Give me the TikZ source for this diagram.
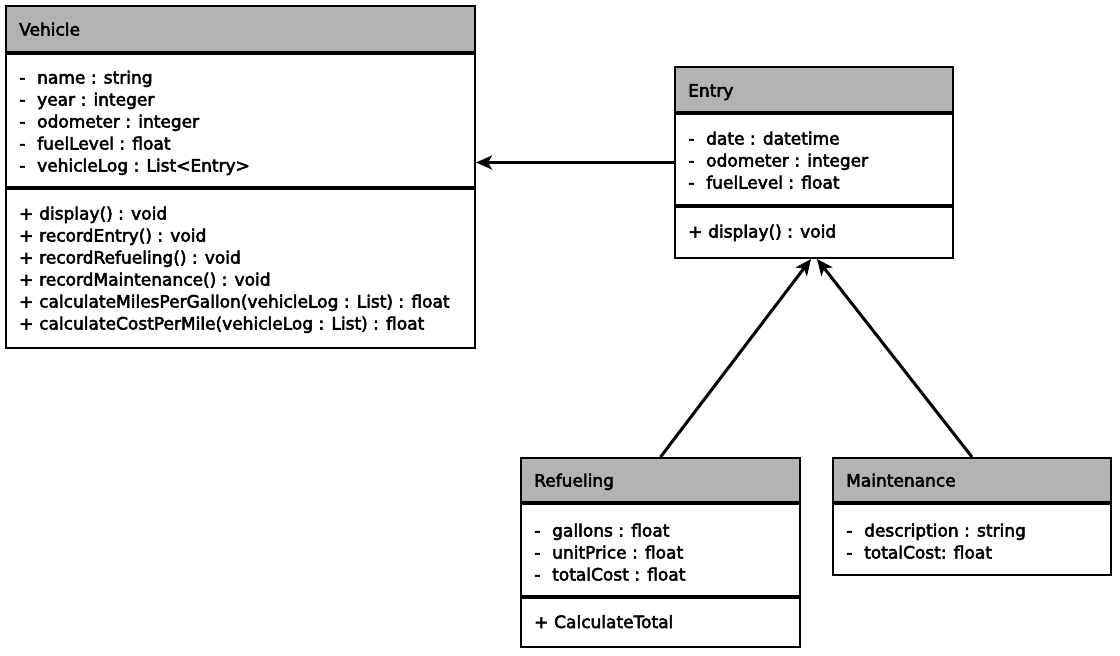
\documentclass[tikz,border=0pt]{standalone}
\usepackage{fontspec}
\setmainfont{DejaVu Sans}[FakeBold=3]
\usetikzlibrary{arrows.meta,calc}
\definecolor{headgray}{RGB}{179,179,179}
% visibility markers for class members
\newcommand\priv[1]{\makebox[18pt][l]{-}#1}
\newcommand\publ[1]{\makebox[20pt][l]{+}#1}
\begin{document}
\begin{tikzpicture}[x=1pt,y=-1pt,
  classbox/.style={draw, line width=2pt, rectangle, inner sep=0pt, anchor=north west},
  headbox/.style={fill=headgray, rectangle, inner sep=0pt, anchor=north west},
  sepline/.style={line width=3.2pt},
  member/.style={anchor=base west, inner sep=0pt, font=\fontsize{17}{20}\selectfont},
  assoc/.style={line width=3pt, -{Stealth[length=16pt,width=14pt,inset=4pt]}}]
\useasboundingbox (0,0) rectangle (1120,656);

% ---------- Vehicle ----------
\node[headbox, minimum width=469, minimum height=48] (vehhead) at (5,5) {};
\draw[sepline] (5,53) -- (474,53);
\draw[sepline] (5,188) -- (474,188);
\node[classbox, minimum width=469, minimum height=342] (veh) at (5,5) {};
\node[member] (vehname) at (19,35.5) {Vehicle};
\node[member] (va1) at (19,83.5)  {\priv{name : string}};
\node[member] (va2) at (19,105.5) {\priv{year : integer}};
\node[member] (va3) at (19,127.5) {\priv{odometer : integer}};
\node[member] (va4) at (19,149.5) {\priv{fuelLevel : float}};
\node[member] (va5) at (19,171.5) {\priv{vehicleLog : List<Entry>}};
\node[member] (vm1) at (19,219.5) {\publ{display() : void}};
\node[member] (vm2) at (19,241.5) {\publ{recordEntry() : void}};
\node[member] (vm3) at (19,263.5) {\publ{recordRefueling() : void}};
\node[member] (vm4) at (19,285.5) {\publ{recordMaintenance() : void}};
\node[member] (vm5) at (19,307.5) {\publ{calculateMilesPerGallon(vehicleLog : List) : float}};
\node[member] (vm6) at (19,329.5) {\publ{calculateCostPerMile(vehicleLog : List) : float}};

% ---------- Entry ----------
\node[headbox, minimum width=278, minimum height=47] (enthead) at (674,66) {};
\draw[sepline] (674,113) -- (952,113);
\draw[sepline] (674,206) -- (952,206);
\node[classbox, minimum width=278, minimum height=191] (entry) at (674,66) {};
\node[member] (entname) at (688,96.5) {Entry};
\node[member] (ea1) at (688,144.5) {\priv{date : datetime}};
\node[member] (ea2) at (688,166.5) {\priv{odometer : integer}};
\node[member] (ea3) at (688,188.5) {\priv{fuelLevel : float}};
\node[member] (em1) at (688,237.5) {\publ{display() : void}};

% ---------- Refueling ----------
\node[headbox, minimum width=279, minimum height=46] (refhead) at (520,457) {};
\draw[sepline] (520,503) -- (799,503);
\draw[sepline] (520,597) -- (799,597);
\node[classbox, minimum width=279, minimum height=189] (ref) at (520,457) {};
\node[member] (refname) at (534,486.5) {Refueling};
\node[member] (ra1) at (534,536.5) {\priv{gallons : float}};
\node[member] (ra2) at (534,558.5) {\priv{unitPrice : float}};
\node[member] (ra3) at (534,580.5) {\priv{totalCost : float}};
\node[member] (rm1) at (534,628) {\publ{CalculateTotal}};

% ---------- Maintenance ----------
\node[headbox, minimum width=278, minimum height=46] (mnthead) at (832,457) {};
\draw[sepline] (832,503) -- (1110,503);
\node[classbox, minimum width=278, minimum height=117] (mnt) at (832,457) {};
\node[member] (mntname) at (846,486.5) {Maintenance};
\node[member] (ma1) at (846,536.5) {\priv{description : string}};
\node[member] (ma2) at (846,558.5) {\priv{totalCost: float}};

% ---------- relations ----------
\draw[assoc] (entry.west) -- (entry.west -| veh.east);
\draw[assoc] (ref.north) -- ($(entry.south)+(-3,0)$);
\draw[assoc] (mnt.north) -- ($(entry.south)+(3,0)$);
\end{tikzpicture}
\end{document}
